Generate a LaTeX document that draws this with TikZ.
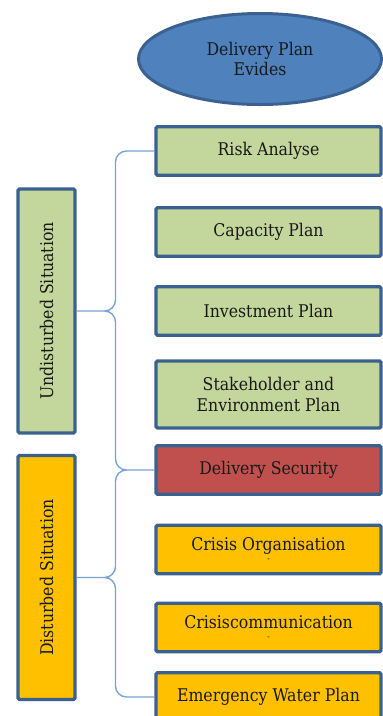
\documentclass[tikz,border=0pt]{standalone}
\usepackage{fontspec}
\setmainfont{DejaVu Serif Condensed}
\usetikzlibrary{shapes.geometric,calc}

\definecolor{planblue}{HTML}{4F81BD}
\definecolor{edgeblue}{HTML}{3A6190}
\definecolor{braceblue}{HTML}{7AA3D6}
\definecolor{planGreen}{HTML}{C3D69B}
\definecolor{planRed}{HTML}{C0504D}
\definecolor{planOrange}{HTML}{FFC000}

\begin{document}
\begin{tikzpicture}[x=1pt, y=-1pt,
        font=\fontsize{17.5}{20.5}\selectfont, text=black!90,
        plan/.style={draw=edgeblue, line width=3.4pt, rounded corners=1.5pt,
            minimum width=225pt, minimum height=48.5pt, align=center, inner sep=2pt},
        situation/.style={plan, rotate=90, minimum width=244pt, minimum height=57pt},
        brace/.style={draw=braceblue, line width=1.4pt, rounded corners=11pt}]
        \useasboundingbox (0,0) rectangle (383,716);

        \node[ellipse, draw=edgeblue, line width=3pt, fill=planblue,
            minimum width=243pt, minimum height=91pt, align=center] at (260, 59)(evides){Delivery Plan\\Evides};

        \node[plan, fill=planGreen] at (268.5, 151)(risk){Risk Analyse};
        \node[plan, fill=planGreen] at (268.5, 232)(capacity){Capacity Plan};
        \node[plan, fill=planGreen] at (268.5, 311)(invest){Investment Plan};
        \node[plan, fill=planGreen, minimum height=67pt] at (268.5, 394.5)(stake){Stakeholder and\\Environment Plan};
        \node[plan, fill=planRed] at (268.5, 470)(security){Delivery Security};
        \node[plan, fill=planOrange] at (268.5, 549.5)(crisisorg){Crisis Organisation\\[-9pt]{\footnotesize -}};
        \node[plan, fill=planOrange] at (268.5, 627.5)(crisiscom){Crisiscommunication\\[-9pt]{\footnotesize -}};
        \node[plan, fill=planOrange] at (268.5, 697)(water){Emergency Water Plan};

        % rotated boxes: their right side is the south anchor
        \node[situation, fill=planGreen] at (46.5, 311)(undisturbed){Undisturbed Situation};
        \node[situation, fill=planOrange] at (46.5, 577.5)(disturbed){Disturbed Situation};

        \path[brace]
        (undisturbed.south) -| ($(undisturbed.south)!.5!(risk.west)$) |- (risk.west)
        (undisturbed.south) -| ($(undisturbed.south)!.5!(security.west)$) |- (security.west)
        (disturbed.south) -| ($(disturbed.south)!.5!(security.west)$) |- (security.west)
        (disturbed.south) -| ($(disturbed.south)!.5!(water.west)$) |- (water.west)
        ;
    \end{tikzpicture}
\end{document}
